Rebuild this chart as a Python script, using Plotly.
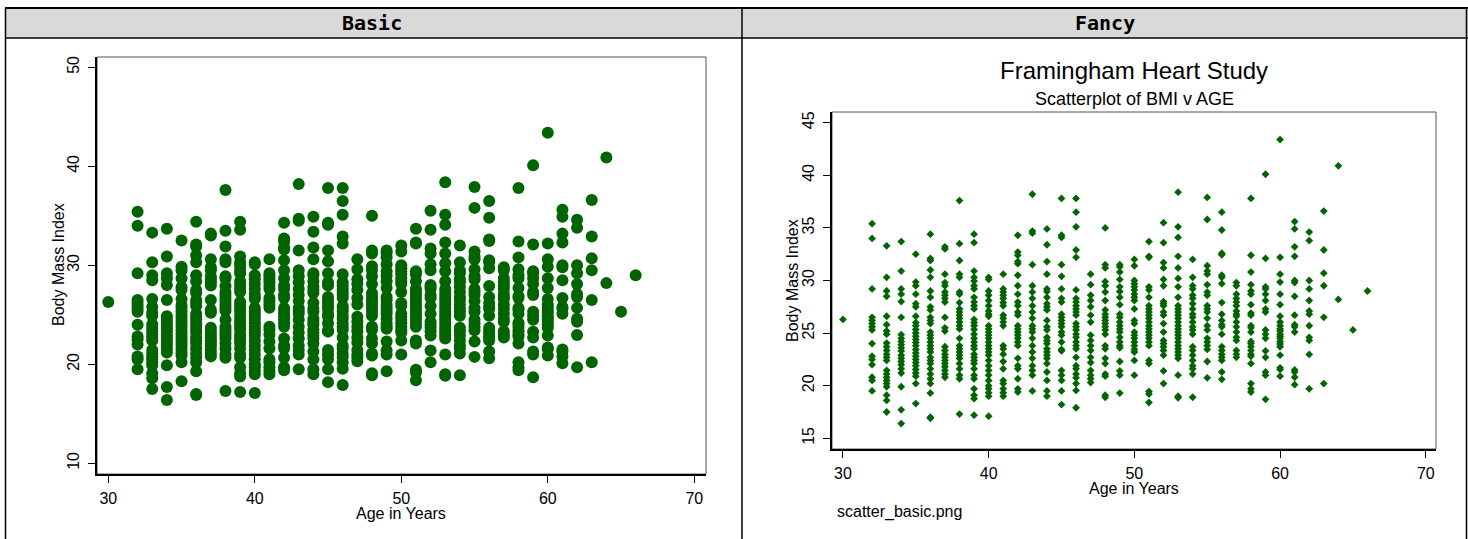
import plotly.graph_objects as go

# ---------------- data: BMI values read per age column ----------------
bmi_30 = [26.3]
bmi_32 = [35.4, 34.0, 29.2, 26.5, 26.2, 25.9, 25.6, 25.3, 24.0, 22.8, 22.5, 22.0, 20.8, 20.5, 19.5]
bmi_33 = [33.3, 30.3, 29.0, 28.5, 26.6, 25.8, 25.2, 24.9, 24.05, 23.7, 23.35, 23.0, 22.7, 22.4,
          21.45, 21.1, 20.8, 20.5, 20.2, 19.9, 19.1, 18.6, 17.5]
bmi_34 = [33.7, 30.9, 29.2, 28.7, 28.0, 26.5, 24.85, 24.5, 24.2, 23.9, 23.6, 23.3, 22.9, 22.6,
          22.3, 22.0, 21.6, 21.2, 19.9, 17.7, 16.4]
bmi_35 = [32.5, 29.85, 29.5, 28.7, 27.8, 27.5, 26.6, 26.0, 25.7, 25.35, 25.0, 24.7, 24.4, 24.1,
          23.8, 23.45, 23.1, 22.8, 22.5, 22.2, 21.9, 21.55, 21.2, 20.9, 20.2, 18.3]
bmi_36 = [34.4, 32.1, 31.9, 31.0, 30.3, 29.0, 28.4, 27.5, 27.2, 26.5, 26.2, 25.9, 25.1, 24.8,
          24.5, 24.15, 23.8, 23.5, 23.2, 22.7, 22.4, 22.1, 21.6, 21.1, 20.66, 20.2, 19.3, 17.0, 16.9]
bmi_37 = [33.2, 33.0, 30.6, 29.8, 29.5, 28.9, 28.6, 28.3, 27.95, 26.5, 25.5, 25.2, 23.7, 23.35,
          23.0, 22.7, 22.4, 22.1, 21.8, 21.45, 21.1, 20.8]
bmi_38 = [37.6, 33.5, 31.9, 30.6, 30.3, 28.9, 28.7, 27.9, 27.3, 27.0, 26.7, 26.4, 26.05, 25.7,
          25.4, 24.5, 23.8, 23.5, 23.2, 22.9, 22.6, 22.1, 21.6, 21.0, 20.66, 17.3]
bmi_39 = [34.4, 33.6, 30.9, 30.3, 29.95, 29.5, 29.2, 28.4, 27.95, 27.6, 27.3, 26.3, 26.0, 25.7,
          25.35, 24.9, 24.5, 24.15, 23.8, 23.5, 23.0, 22.7, 22.4, 22.1, 21.6, 21.0, 20.66, 19.7,
          19.1, 18.76, 17.2]
bmi_40 = [30.3, 30.1, 29.0, 28.6, 28.1, 27.6, 27.1, 26.8, 26.6, 25.7, 25.4, 25.1, 24.8, 24.5,
          24.15, 23.8, 23.5, 23.2, 22.9, 22.4, 21.9, 21.45, 21.0, 20.5, 20.0, 19.7, 19.33, 19.0, 17.1]
bmi_41 = [30.6, 29.2, 28.9, 28.6, 28.3, 27.9, 27.6, 26.7, 26.4, 26.05, 25.7, 23.8, 23.5, 23.0,
          22.3, 21.6, 20.5, 20.2, 19.7, 19.33, 19.0]
bmi_42 = [34.3, 32.7, 32.4, 31.8, 31.6, 30.5, 29.5, 28.7, 27.95, 27.6, 27.0, 26.7, 25.7, 25.4,
          25.1, 24.8, 24.5, 24.15, 23.8, 22.6, 21.9, 21.6, 20.66, 19.7, 19.4]
bmi_43 = [38.2, 34.7, 34.5, 31.5, 29.5, 28.9, 28.3, 27.6, 27.0, 26.4, 25.7, 25.4, 25.1, 24.5,
          23.8, 23.2, 22.6, 21.9, 21.45, 21.0, 19.5]
bmi_44 = [34.9, 33.4, 31.8, 30.6, 29.2, 28.95, 28.4, 27.8, 27.5, 27.2, 26.2, 25.6, 25.3, 24.6,
          24.3, 24.0, 23.5, 23.2, 22.9, 22.6, 22.1, 21.3, 20.5, 19.5, 19.0]
bmi_45 = [37.8, 34.3, 34.1, 31.5, 30.4, 29.2, 28.3, 27.95, 26.8, 26.5, 26.2, 25.9, 25.6, 25.1,
          24.8, 24.15, 23.45, 23.3, 21.45, 21.0, 20.5, 19.5, 18.2]
bmi_46 = [37.8, 36.5, 35.1, 32.9, 32.2, 29.1, 28.3, 27.95, 27.6, 27.3, 27.0, 26.7, 25.9, 25.6,
          25.3, 24.9, 24.6, 24.15, 23.8, 23.5, 22.7, 21.9, 21.6, 21.1, 20.75, 20.2, 19.55, 17.9]
bmi_47 = [30.6, 29.6, 28.6, 28.1, 27.5, 26.7, 26.05, 24.8, 24.3, 23.8, 23.35, 22.7, 22.2, 21.45,
          21.0, 20.66, 20.3]
bmi_48 = [35.0, 31.5, 31.2, 29.9, 29.5, 28.9, 28.1, 27.2, 26.8, 26.5, 26.2, 25.9, 25.6, 25.3,
          24.9, 23.8, 23.5, 22.6, 22.1, 21.1, 20.9, 19.1, 18.9]
bmi_49 = [31.5, 31.3, 30.8, 30.1, 29.4, 28.95, 28.4, 27.7, 26.8, 26.5, 26.05, 25.7, 25.4, 25.1,
          24.6, 24.15, 23.8, 23.6, 22.3, 21.4, 21.0, 19.3]
bmi_50 = [32.0, 31.4, 30.0, 29.7, 29.4, 29.1, 28.7, 28.4, 28.1, 27.3, 26.2, 25.9, 25.1, 24.8,
          24.5, 24.15, 23.8, 23.45, 23.2, 22.4, 21.0]
bmi_51 = [33.7, 32.3, 32.2, 29.4, 29.1, 28.4, 27.6, 27.3, 27.0, 26.7, 26.4, 26.05, 25.7, 25.4,
          25.1, 24.8, 24.5, 24.15, 23.8, 22.4, 22.1, 19.45, 19.2, 18.4]
bmi_52 = [35.5, 33.6, 31.7, 31.2, 30.1, 29.5, 28.0, 27.8, 27.6, 27.0, 26.7, 25.9, 25.1, 24.3,
          24.0, 23.7, 23.35, 22.9, 21.4, 20.2]
bmi_53 = [38.4, 35.1, 34.1, 32.3, 31.2, 30.2, 29.4, 28.4, 27.6, 27.3, 27.0, 26.7, 26.4, 26.05,
          25.7, 25.4, 25.1, 24.8, 24.5, 24.15, 23.8, 23.5, 23.2, 22.9, 22.6, 21.0, 19.0, 18.85]
bmi_54 = [32.0, 30.3, 29.5, 29.2, 28.6, 28.3, 27.8, 27.3, 26.8, 26.5, 26.05, 25.6, 25.3, 24.9,
          23.7, 23.35, 22.9, 22.4, 21.9, 21.6, 21.1, 18.9]
bmi_55 = [37.9, 35.8, 31.4, 30.9, 30.6, 29.6, 28.9, 28.6, 27.6, 27.3, 27.0, 26.4, 25.7, 25.3,
          24.5, 24.15, 23.8, 23.45, 22.3, 20.75]
bmi_56 = [36.5, 34.8, 32.6, 32.45, 30.5, 30.3, 29.7, 27.9, 26.8, 26.2, 25.8, 25.6, 24.9, 23.7,
          23.35, 23.0, 22.7, 22.4, 21.3, 20.6]
bmi_57 = [29.8, 29.5, 28.7, 28.3, 27.95, 27.6, 27.1, 26.8, 26.6, 26.05, 25.6, 25.1, 24.6, 24.3,
          23.35, 23.0, 22.7]
bmi_58 = [37.8, 32.4, 30.8, 29.6, 29.0, 28.7, 27.7, 26.9, 26.7, 25.7, 25.5, 25.1, 24.2, 24.0,
          23.7, 23.35, 23.0, 22.8, 22.1, 20.2, 19.7, 19.4]
bmi_59 = [40.1, 32.1, 29.4, 29.2, 28.7, 28.1, 27.3, 27.0, 25.3, 24.9, 24.5, 23.3, 22.7, 21.3,
          21.0, 18.7]
bmi_60 = [43.4, 32.2, 30.6, 29.85, 28.7, 27.7, 26.6, 26.05, 25.7, 25.4, 25.2, 24.9, 24.7, 24.5,
          24.2, 23.96, 23.7, 22.9, 21.7, 21.55, 20.9]
bmi_61 = [35.6, 34.9, 33.2, 32.3, 30.0, 29.8, 28.5, 26.7, 25.8, 25.6, 25.1, 21.5, 21.3, 20.8, 20.1]
bmi_62 = [34.6, 33.8, 30.0, 29.2, 28.1, 27.1, 26.8, 25.7, 24.6, 24.3, 22.97, 19.7]
bmi_63 = [36.6, 32.9, 30.7, 29.5, 26.5, 20.2]
bmi_64 = [40.9, 28.2]
bmi_65 = [25.3]
bmi_66 = [29.0]

age_groups = [
    (30, bmi_30), (32, bmi_32), (33, bmi_33), (34, bmi_34), (35, bmi_35), (36, bmi_36),
    (37, bmi_37), (38, bmi_38), (39, bmi_39), (40, bmi_40), (41, bmi_41), (42, bmi_42),
    (43, bmi_43), (44, bmi_44), (45, bmi_45), (46, bmi_46), (47, bmi_47), (48, bmi_48),
    (49, bmi_49), (50, bmi_50), (51, bmi_51), (52, bmi_52), (53, bmi_53), (54, bmi_54),
    (55, bmi_55), (56, bmi_56), (57, bmi_57), (58, bmi_58), (59, bmi_59), (60, bmi_60),
    (61, bmi_61), (62, bmi_62), (63, bmi_63), (64, bmi_64), (65, bmi_65), (66, bmi_66),
]

x_ticks = [30, 40, 50, 60, 70]
y_ticks_basic = [10, 20, 30, 40, 50]
y_ticks_fancy = [15, 20, 25, 30, 35, 40, 45]

header_left = "Basic"
header_right = "Fancy"
title_text = "Framingham Heart Study"
subtitle_text = "Scatterplot of BMI v AGE"
x_title = "Age in Years"
y_title = "Body Mass Index"
note_text = "scatter_basic.png"

ages = []
bmis = []
for a, vals in age_groups:
    for v in vals:
        ages.append(a)
        bmis.append(v)

# ---------------- layout helpers ----------------
W, H = 1468, 539
def px(x):
    return x / W
def py(y):
    return 1 - y / H

GREEN = "#006400"
FONT = "Liberation Sans"

fig = go.Figure()
fig.add_trace(go.Scatter(x=ages, y=bmis, mode="markers", xaxis="x", yaxis="y",
                         marker=dict(symbol="circle", size=12, color=GREEN, line=dict(width=0)),
                         showlegend=False, hoverinfo="skip"))
fig.add_trace(go.Scatter(x=ages, y=bmis, mode="markers", xaxis="x2", yaxis="y2",
                         marker=dict(symbol="diamond", size=6, color=GREEN, line=dict(width=0)),
                         showlegend=False, hoverinfo="skip"))

# plot rectangles (pixels)
L = dict(x0=97, x1=706, y0=57, y1=474)
R = dict(x0=832, x1=1436, y0=112, y1=449)

axis_common = dict(showgrid=False, zeroline=False, showline=True, linecolor="black", linewidth=1.5,
                   ticks="outside", ticklen=7, tickwidth=1, tickcolor="black",
                   tickfont=dict(family=FONT, size=16, color="black"))

fig.update_layout(
    width=W, height=H, margin=dict(l=0, r=0, t=0, b=0),
    paper_bgcolor="white", plot_bgcolor="white", showlegend=False,
    xaxis=dict(domain=[px(L["x0"]), px(L["x1"])], range=[29.23, 70.8], tickvals=x_ticks,
               anchor="y", ticklabelstandoff=2, **axis_common),
    yaxis=dict(domain=[py(L["y1"]), py(L["y0"])], range=[8.92, 51.04], tickvals=y_ticks_basic,
               anchor="x", tickangle=-90, ticklabelstandoff=3, **axis_common),
    xaxis2=dict(domain=[px(R["x0"]), px(R["x1"])], range=[29.25, 70.7], tickvals=x_ticks,
                anchor="y2", ticklabelstandoff=2, **axis_common),
    yaxis2=dict(domain=[py(R["y1"]), py(R["y0"])], range=[13.98, 46.02], tickvals=y_ticks_fancy,
                anchor="x2", tickangle=-90, ticklabelstandoff=3, **axis_common),
)

shapes = []
# table header background
shapes.append(dict(type="rect", xref="paper", yref="paper", x0=px(5), x1=px(1468), y0=py(38), y1=py(8),
                   fillcolor="#d9d9d9", line=dict(width=0), layer="below"))
# table lines
for (x0, y0, x1, y1, w) in [(5, 8, 1468, 8, 2), (5, 38, 1468, 38, 1.5),
                            (5.5, 8, 5.5, 539, 1.5), (742, 8, 742, 539, 1.5), (1466.5, 8, 1466.5, 539, 1.5)]:
    shapes.append(dict(type="line", xref="paper", yref="paper", x0=px(x0), x1=px(x1), y0=py(y0), y1=py(y1),
                       line=dict(color="black", width=w)))
# plot region frames
for r in (L, R):
    shapes.append(dict(type="rect", xref="paper", yref="paper", x0=px(r["x0"]), x1=px(r["x1"]),
                       y0=py(r["y1"]), y1=py(r["y0"]), line=dict(color="#555555", width=1), layer="below"))
fig.update_layout(shapes=shapes)

def ann(text, x, y, size, xanchor="center", angle=0, family=FONT, weight="normal"):
    return dict(text=text, x=px(x), y=py(y), xref="paper", yref="paper", showarrow=False,
                xanchor=xanchor, yanchor="middle", textangle=angle,
                font=dict(family=family, size=size, color="black", weight=weight))

annotations = [
    ann(header_left, 372, 23, 20, family="DejaVu Sans Mono", weight="bold"),
    ann(header_right, 1105, 23, 20, family="DejaVu Sans Mono", weight="bold"),
    ann(y_title, 58, 265, 16, angle=-90),
    ann(x_title, 401, 513, 16),
    ann(title_text, 1134, 70, 24),
    ann(subtitle_text, 1134, 99, 18),
    ann(y_title, 792, 281, 16, angle=-90),
    ann(x_title, 1134, 488, 16),
    ann(note_text, 835, 512, 16, xanchor="left"),
]
fig.update_layout(annotations=annotations)

fig.write_html("out.html", config={"displayModeBar": False},
               post_script="document.body.style.margin='0';document.body.style.overflow='hidden';")
